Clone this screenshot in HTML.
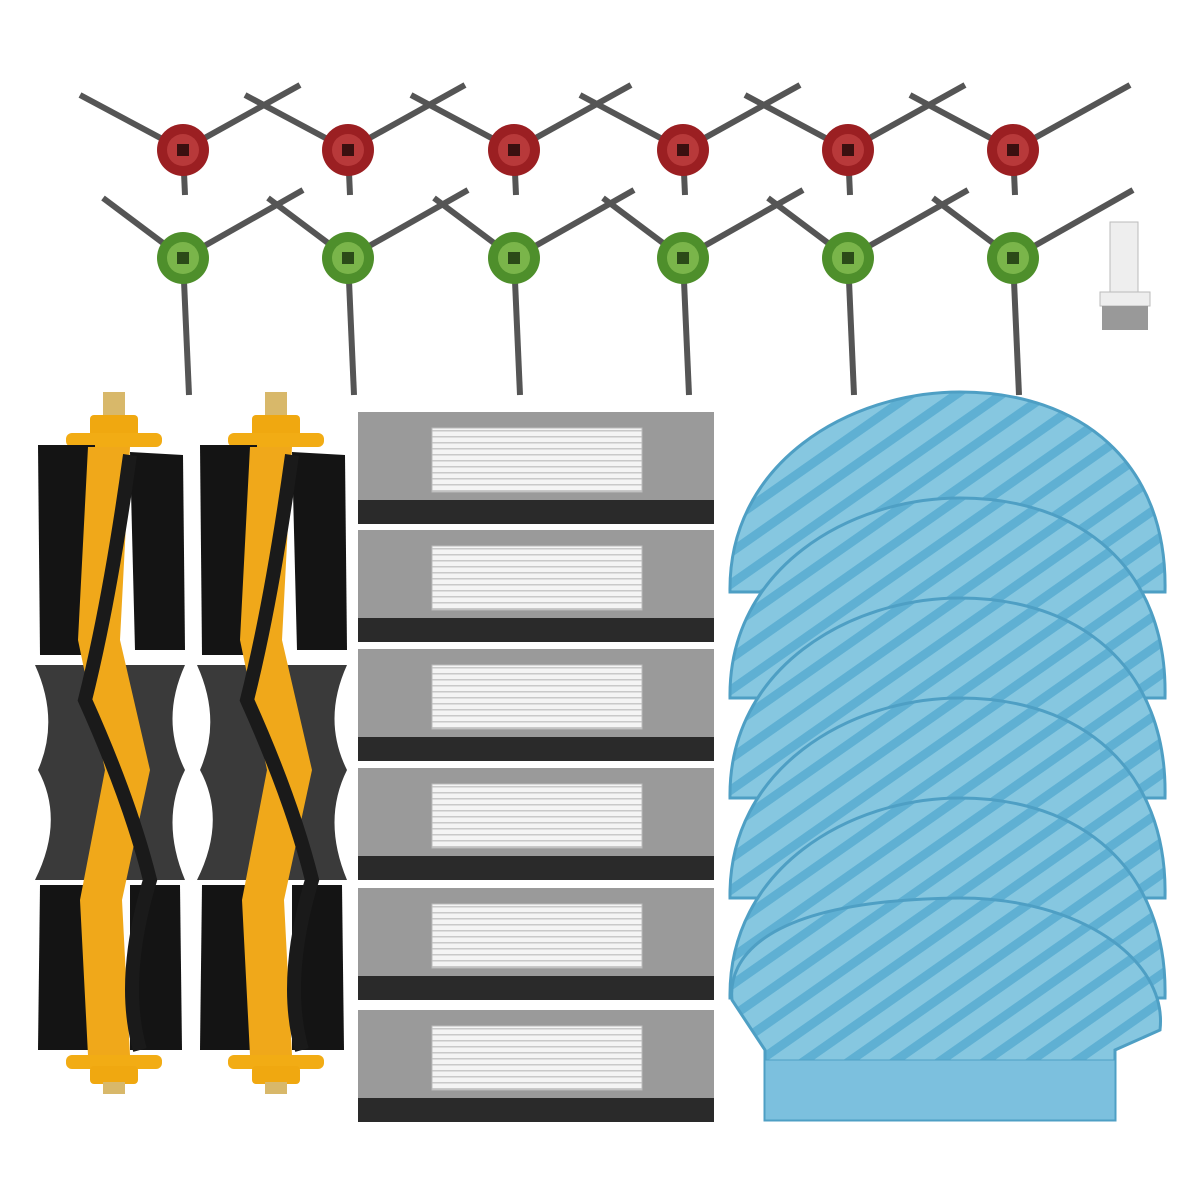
<!DOCTYPE html>
<html><head><meta charset="utf-8"><style>html,body{margin:0;padding:0;background:#fff}svg{display:block}</style></head>
<body>
<svg width="1200" height="1200" viewBox="0 0 1200 1200" xmlns="http://www.w3.org/2000/svg">
<defs>
<pattern id="str" width="26" height="26" patternUnits="userSpaceOnUse" patternTransform="rotate(-35)">
<rect width="26" height="26" fill="#86c7e0"/><rect width="26" height="9" fill="#5fb0d3"/></pattern>
<pattern id="hepa" width="6" height="6" patternUnits="userSpaceOnUse"><rect width="6" height="6" fill="#f4f4f4"/><rect width="6" height="1.5" fill="#c9c9c9"/></pattern>
<g id="redb">
<line x1="0" y1="0" x2="-103" y2="-55" stroke="#555" stroke-width="6"/>
<line x1="0" y1="0" x2="117" y2="-65" stroke="#555" stroke-width="6"/>
<line x1="0" y1="0" x2="2" y2="45" stroke="#555" stroke-width="6"/>
<circle r="26" fill="#9b1f22"/><circle r="16" fill="#b8393a"/><rect x="-6" y="-6" width="12" height="12" fill="#3a1010"/>
</g>
<g id="grnb">
<line x1="0" y1="0" x2="-80" y2="-60" stroke="#555" stroke-width="6"/>
<line x1="0" y1="0" x2="120" y2="-68" stroke="#555" stroke-width="6"/>
<line x1="0" y1="0" x2="6" y2="137" stroke="#555" stroke-width="6"/>
<circle r="26" fill="#4e8f2b"/><circle r="16" fill="#7ab54a"/><rect x="-6" y="-6" width="12" height="12" fill="#2b4a18"/>
</g>
<g id="roll">
<rect x="103" y="392" width="22" height="26" fill="#d8b86a"/>
<rect x="90" y="415" width="48" height="22" rx="4" fill="#f0a810"/>
<rect x="66" y="433" width="96" height="14" rx="6" fill="#f2ac14"/>
<path d="M38,445 L95,445 L95,655 L40,655 Z" fill="#141414"/>
<path d="M130,452 L183,455 L185,650 L135,650 Z" fill="#141414"/>
<path d="M35,665 Q60,720 38,770 Q65,820 35,880 L185,880 Q160,820 185,770 Q160,720 185,665 Z" fill="#3a3a3a"/>
<path d="M40,885 L95,885 L95,1050 L38,1050 Z" fill="#141414"/>
<path d="M130,885 L180,885 L182,1050 L130,1050 Z" fill="#141414"/>
<path d="M88,447 L130,447 L120,640 L150,770 L122,900 L130,1055 L88,1055 L80,900 L105,770 L78,640 Z" fill="#f0a81a"/>
<path d="M130,455 Q110,600 85,700 Q130,800 150,880 Q120,980 140,1050" stroke="#1a1a1a" stroke-width="14" fill="none"/>
<rect x="66" y="1055" width="96" height="14" rx="6" fill="#f2ac14"/>
<rect x="90" y="1066" width="48" height="18" rx="4" fill="#f0a810"/>
<rect x="103" y="1082" width="22" height="12" fill="#d8b86a"/>
</g>
<g id="filt">
<rect x="358" y="0" width="356" height="112" fill="#9a9a9a"/>
<rect x="358" y="88" width="356" height="24" fill="#2a2a2a"/>
<rect x="432" y="16" width="210" height="64" fill="url(#hepa)" stroke="#bbb"/>
</g>
<path id="mop" d="M730,200 C728,70 850,0 960,0 C1080,0 1168,70 1165,200 Z" fill="url(#str)" stroke="#4e9fc4" stroke-width="3"/>
</defs>

<use href="#redb" x="183" y="150"/><use href="#redb" x="348" y="150"/><use href="#redb" x="514" y="150"/>
<use href="#redb" x="683" y="150"/><use href="#redb" x="848" y="150"/><use href="#redb" x="1013" y="150"/>
<use href="#grnb" x="183" y="258"/><use href="#grnb" x="348" y="258"/><use href="#grnb" x="514" y="258"/>
<use href="#grnb" x="683" y="258"/><use href="#grnb" x="848" y="258"/><use href="#grnb" x="1013" y="258"/>

<rect x="1110" y="222" width="28" height="70" fill="#eee" stroke="#bbb"/>
<rect x="1100" y="292" width="50" height="14" fill="#eee" stroke="#bbb"/>
<rect x="1102" y="306" width="46" height="24" fill="#999"/>

<use href="#roll"/>
<use href="#roll" x="162"/>

<use href="#filt" y="412"/><use href="#filt" y="530"/><use href="#filt" y="649"/>
<use href="#filt" y="768"/><use href="#filt" y="888"/><use href="#filt" y="1010"/>

<use href="#mop" y="392"/><use href="#mop" y="498"/><use href="#mop" y="598"/>
<use href="#mop" y="698"/><use href="#mop" y="798"/>
<path d="M732,1000 C728,960 760,900 960,898 C1080,898 1168,960 1160,1030 L1115,1050 L1115,1120 L765,1120 L765,1050 Z" fill="url(#str)" stroke="#4e9fc4" stroke-width="3"/>
<rect x="765" y="1060" width="350" height="60" fill="#7cc0de" stroke="#4e9fc4"/>
</svg>
</body></html>
